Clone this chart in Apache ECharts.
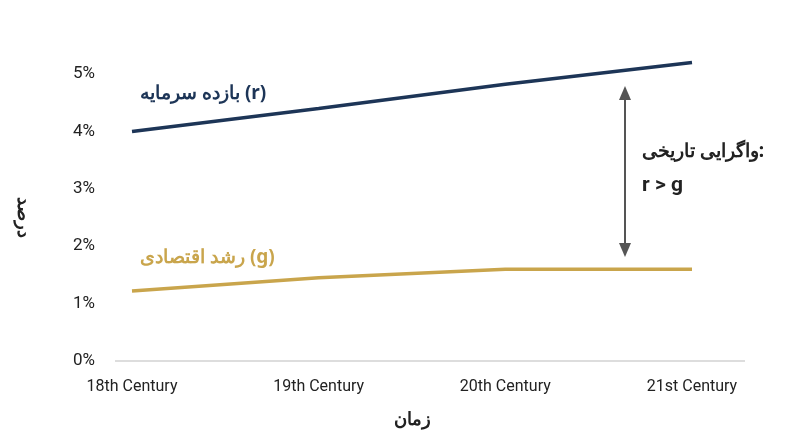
<!DOCTYPE html><html><head><meta charset="utf-8"><script src="https://cdn.jsdelivr.net/npm/echarts@6/dist/echarts.min.js"></script></head><body style="margin:0"><div id="c" style="width:800px;height:447px"></div><script>
const categories=['18th Century','19th Century','20th Century','21st Century'];
const rValues=[4.0,4.4,4.82,5.2];
const gValues=[1.22,1.45,1.6,1.6];
const yTicks=[0,1,2,3,4,5];
const blue='#1d3557',gold='#c9a54c',font='Roboto';
const ch=echarts.init(document.getElementById('c'));
ch.setOption({
 animation:false,
 grid:{left:132,right:108,top:74,bottom:86},
 xAxis:{type:'category',data:categories,boundaryGap:false,axisLine:{show:false},axisTick:{show:false},
  axisLabel:{fontFamily:font,fontSize:16,color:'#222',margin:18},
  name:'زمان',nameLocation:'middle',nameGap:50,nameTextStyle:{fontFamily:'Noto Sans',fontSize:18,fontWeight:'bold',color:'#222'}},
 yAxis:{type:'value',min:0,max:5,interval:1,splitLine:{show:false},axisLine:{show:false},axisTick:{show:false},
  axisLabel:{fontFamily:font,fontSize:17,color:'#222',margin:37,formatter:v=>yTicks.includes(v)?v+'%':''},
  name:'درصد',nameLocation:'middle',nameGap:100,nameRotate:-90,nameTextStyle:{fontFamily:'Noto Sans',fontSize:18,fontWeight:'bold',color:'#222'}},
 series:[
  {type:'line',data:rValues,symbol:'none',clip:false,lineStyle:{color:blue,width:3.5}},
  {type:'line',data:gValues,symbol:'none',clip:false,lineStyle:{color:gold,width:3.5}}
 ],
 graphic:[
  {type:'line',shape:{x1:115,y1:361,x2:745,y2:361},style:{stroke:'#bbb',lineWidth:1}},
  {type:'line',shape:{x1:625,y1:96,x2:625,y2:248},style:{stroke:'#555',lineWidth:2}},
  {type:'polygon',shape:{points:[[625,86],[619,100],[631,100]]},style:{fill:'#555'}},
  {type:'polygon',shape:{points:[[625,257],[619,243],[631,243]]},style:{fill:'#555'}},
  {type:'text',left:140,top:84,style:{text:'بازده سرمایه (r)',fontFamily:'Noto Sans',fontSize:19,fontWeight:'bold',fill:blue}},
  {type:'text',left:140,top:248,style:{text:'رشد اقتصادی (g)',fontFamily:'Noto Sans',fontSize:19,fontWeight:'bold',fill:gold}},
  {type:'text',right:36,top:142,style:{text:'واگرایی تاریخی:',fontFamily:'Noto Sans',fontSize:19,fontWeight:'bold',fill:'#222'}},
  {type:'text',left:642,top:175,style:{text:'r > g',fontFamily:font,fontSize:21,fontWeight:'bold',fill:'#222'}}
 ]
});
</script></body></html>
